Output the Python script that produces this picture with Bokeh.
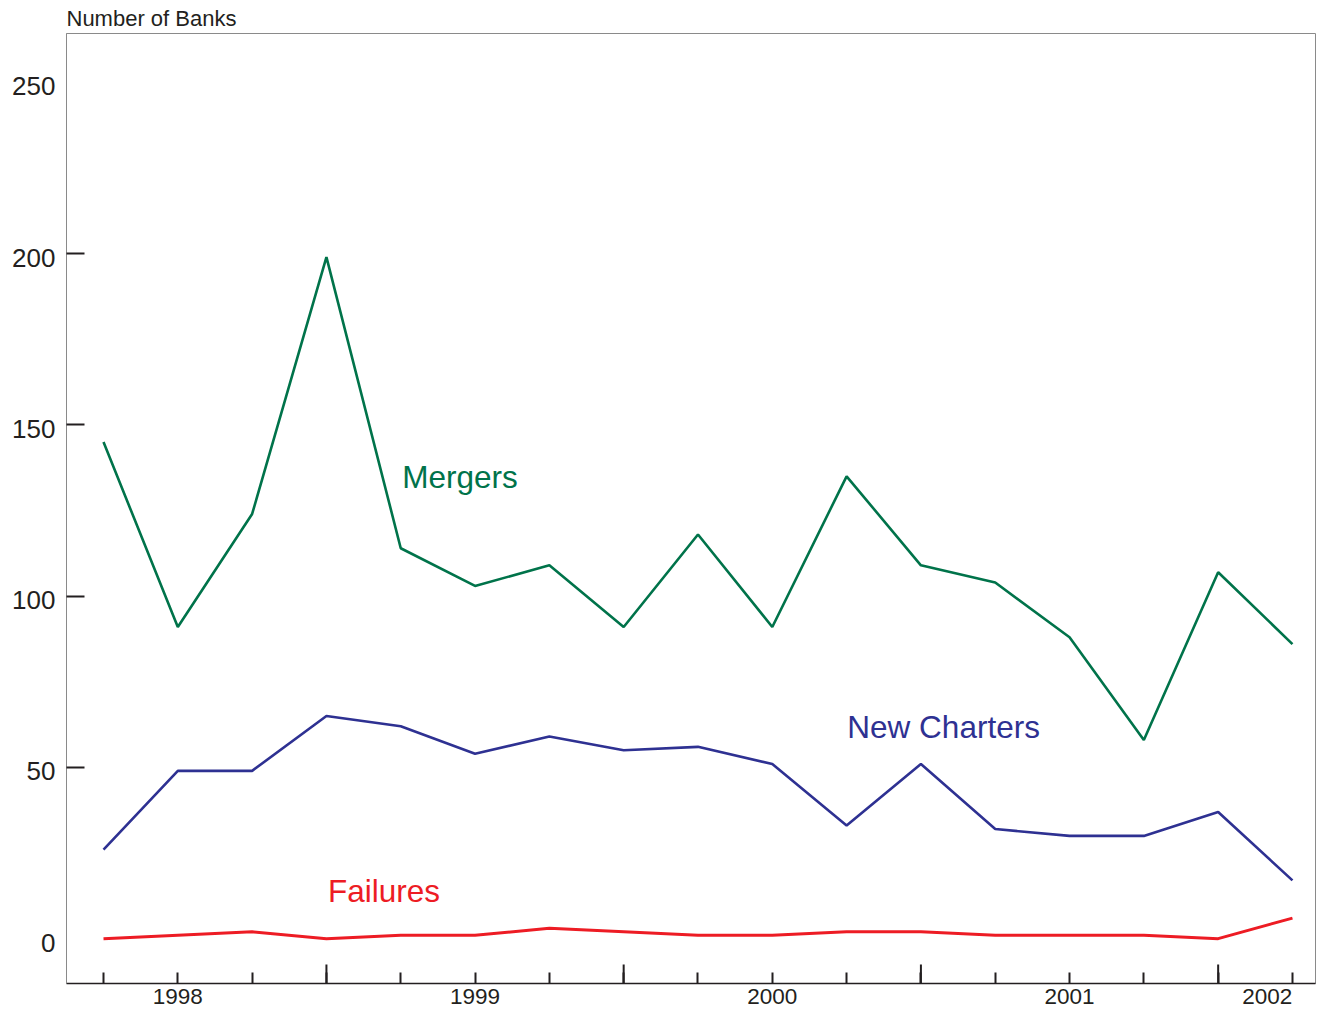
from bokeh.plotting import figure
from bokeh.models import FixedTicker, Range1d, ColumnDataSource
from bokeh.core.properties import value
from bokeh.embed import file_html
from bokeh.resources import INLINE

# ---- data (quarterly) ----
quarters = ["1997Q4", "1998Q1", "1998Q2", "1998Q3", "1998Q4",
            "1999Q1", "1999Q2", "1999Q3", "1999Q4",
            "2000Q1", "2000Q2", "2000Q3", "2000Q4",
            "2001Q1", "2001Q2", "2001Q3", "2001Q4"]
mergers = [145, 91, 124, 199, 114, 103, 109, 91, 118, 91, 135, 109, 104, 88, 58, 107, 86]
new_charters = [26, 49, 49, 65, 62, 54, 59, 55, 56, 51, 33, 51, 32, 30, 30, 37, 17]
failures = [0, 1, 2, 0, 1, 1, 3, 2, 1, 1, 2, 2, 1, 1, 1, 0, 6]

year_labels = ["1998", "1999", "2000", "2001", "2002"]
year_label_pos = [1, 5, 9, 13, 15.66]
long_tick_pos = [3, 7, 11, 15]
y_label_values = [0, 50, 100, 150, 200, 250]
y_tick_values = [50, 100, 150, 200]

series_names = ["Mergers", "New Charters", "Failures"]
series_label_x = [4.02, 10.01, 3.02]
series_label_y = [134.7, 61.7, 14.0]

y_title = "Number of Banks"

GREEN = "#00734a"
BLUE = "#2e3192"
RED = "#ed1c24"
INK = "#231f20"
FRAME = "#8a8a8a"
FONT = "Liberation Sans"

x = list(range(len(quarters)))

FRAME_W, FRAME_H = 1249, 950
Y0, Y1 = -13.1, 264.3
X0, X1 = -0.498, 16.31
upp = (Y1 - Y0) / FRAME_H  # data units per pixel (y)

p = figure(frame_width=FRAME_W, frame_height=FRAME_H,
           x_range=Range1d(X0, X1), y_range=Range1d(Y0, Y1),
           output_backend="svg", toolbar_location=None, title=y_title,
           min_border_left=66, min_border_right=4,
           min_border_top=33, min_border_bottom=30)

p.background_fill_color = "white"
p.border_fill_color = "white"
p.outline_line_color = FRAME
p.outline_line_width = 1
p.xgrid.visible = False
p.ygrid.visible = False

# title
p.title.text_font = FONT
p.title.text_font_size = "22px"
p.title.text_font_style = "normal"
p.title.text_color = INK
p.title.align = "left"
p.title.standoff = 5

# y axis
shift = 4 * upp
yt = [v - shift for v in y_label_values]
p.yaxis.ticker = FixedTicker(ticks=yt, minor_ticks=y_tick_values)
p.yaxis.major_label_overrides = {t: str(v) for t, v in zip(yt, y_label_values)}
p.yaxis.major_tick_in = 0
p.yaxis.major_tick_out = 0
p.yaxis.minor_tick_in = 18
p.yaxis.minor_tick_out = 0
p.yaxis.minor_tick_line_color = INK
p.yaxis.minor_tick_line_width = 2
p.yaxis.axis_line_color = FRAME
p.yaxis.axis_line_width = 1
p.yaxis.major_label_standoff = 11
p.yaxis.major_label_text_font = FONT
p.yaxis.major_label_text_font_size = "26px"
p.yaxis.major_label_text_color = INK

# x axis
p.xaxis.ticker = FixedTicker(ticks=year_label_pos, minor_ticks=x)
p.xaxis.major_label_overrides = {t: s for t, s in zip(year_label_pos, year_labels)}
p.xaxis.major_tick_in = 0
p.xaxis.major_tick_out = 0
p.xaxis.minor_tick_in = 11
p.xaxis.minor_tick_out = 0
p.xaxis.minor_tick_line_color = INK
p.xaxis.minor_tick_line_width = 2
p.xaxis.axis_line_color = INK
p.xaxis.axis_line_width = 1.5
p.xaxis.major_label_standoff = 5
p.xaxis.major_label_text_font = FONT
p.xaxis.major_label_text_font_size = "22.5px"
p.xaxis.major_label_text_color = INK

# long ticks at year mid-points
p.segment(x0=long_tick_pos, y0=[Y0] * len(long_tick_pos),
          x1=long_tick_pos, y1=[Y0 + 19 * upp] * len(long_tick_pos),
          line_color=INK, line_width=2)

# series
p.line(x, mergers, line_color=GREEN, line_width=2.6)
p.line(x, new_charters, line_color=BLUE, line_width=2.6)
p.line(x, failures, line_color=RED, line_width=3)

labels = ColumnDataSource(dict(x=series_label_x, y=series_label_y,
                               text=series_names, color=[GREEN, BLUE, RED]))
p.text(x="x", y="y", text="text", text_color="color", source=labels,
       text_font=value(FONT), text_font_size="31.5px",
       text_baseline="alphabetic", text_align="left")

open("out.html", "w").write(file_html(p, INLINE))
